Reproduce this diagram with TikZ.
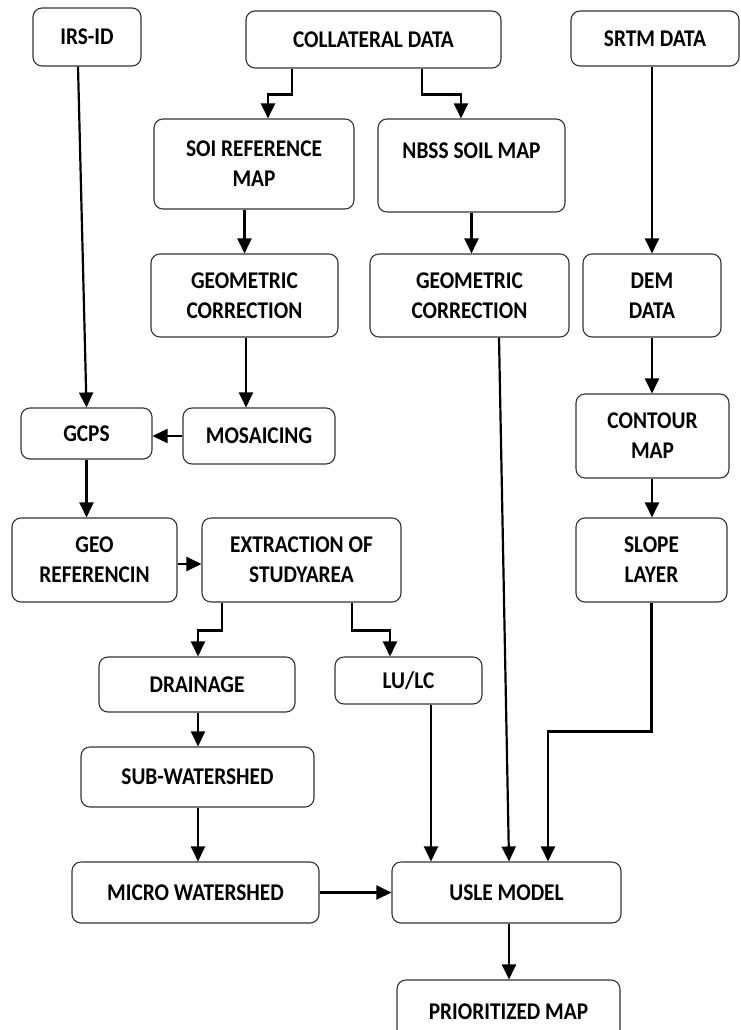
\documentclass[tikz,border=0pt]{standalone}
\usepackage{fontspec}
\setmainfont{Carlito}[FakeStretch=0.89]
\usepackage{tikz}
\usetikzlibrary{arrows.meta, positioning}

\begin{document}
\begin{tikzpicture}[x=1pt, y=-1pt,
            proc box/.style={draw=black!80, line width=1.1pt, rounded corners=9pt,
                align=center, inner sep=0pt,
                font=\fontsize{24}{30}\selectfont\bfseries},
            flow/.style={line width=2.2pt, -{Triangle[length=15pt, width=14pt]}}]

            \path[use as bounding box, clip] (0,0) rectangle (741,1030);

            % Input data
            \node[proc box, minimum width=108pt, minimum height=58pt] (irs) at (87,37) {IRS-ID};
            \node[proc box, minimum width=255pt, minimum height=57pt] (coll) at (373.5,39.5) {COLLATERAL DATA};
            \node[proc box, minimum width=168pt, minimum height=55pt] (srtm) at (655,38.5) {SRTM DATA};

            % Collateral branch
            \node[proc box, minimum width=200pt, minimum height=90pt] (soi) at (254,164) {SOI REFERENCE\\MAP};
            \node[proc box, minimum width=187pt, minimum height=93pt] (nbss) at (471.5,165.5) {NBSS SOIL MAP\\\mbox{}};
            \node[proc box, minimum width=187pt, minimum height=83pt] (geoA) at (244.5,295.5) {GEOMETRIC\\CORRECTION};
            \node[proc box, minimum width=199pt, minimum height=83pt] (geoB) at (469.5,295.5) {GEOMETRIC\\CORRECTION};
            \node[proc box, minimum width=152pt, minimum height=56pt] (mosaic) at (259,436) {MOSAICING};

            % SRTM branch
            \node[proc box, minimum width=138pt, minimum height=83pt] (dem) at (652,295.5) {DEM\\DATA};
            \node[proc box, minimum width=153pt, minimum height=84pt] (contour) at (652.5,436) {CONTOUR\\MAP};
            \node[proc box, minimum width=151pt, minimum height=84pt] (slope) at (651.5,560) {SLOPE\\LAYER};

            % Image processing
            \node[proc box, minimum width=131pt, minimum height=51pt] (gcps) at (86.5,433.5) {GCPS};
            \node[proc box, minimum width=165pt, minimum height=84pt] (georef) at (94.5,560) {GEO\\REFERENCIN};
            \node[proc box, minimum width=199pt, minimum height=84pt] (extract) at (301.5,560) {EXTRACTION OF\\STUDYAREA};

            % Derived layers
            \node[proc box, minimum width=196pt, minimum height=55pt] (drain) at (197,684.5) {DRAINAGE};
            \node[proc box, minimum width=147pt, minimum height=47pt] (lulc) at (408.5,680.5) {LU/LC};
            \node[proc box, minimum width=233pt, minimum height=60pt] (sub) at (197.5,777) {SUB-WATERSHED};
            \node[proc box, minimum width=247pt, minimum height=61pt] (micro) at (195.5,892.5) {MICRO WATERSHED};

            % Model and output
            \node[proc box, minimum width=229pt, minimum height=61pt] (usle) at (506.5,892.5) {USLE MODEL};
            \node[proc box, minimum width=223pt, minimum height=64pt] (prior) at (508.5,1012) {PRIORITIZED MAP};

            % Arrows
            \draw[flow] ([xshift=-81.5pt]coll.south) -- ++(0,26) -| ([xshift=14pt]soi.north);
            \draw[flow] ([xshift=48.5pt]coll.south) -- ++(0,26) -| ([xshift=-10.5pt]nbss.north);
            \draw[flow] ([xshift=-9pt]irs.south) -- (gcps.north);
            \draw[flow] (srtm.south -| dem.north) -- (dem.north);
            \draw[flow] (soi.south -| geoA.north) -- (geoA.north);
            \draw[flow] (nbss.south) -- (nbss.south |- geoB.north);
            \draw[flow] ([xshift=1.5pt]geoA.south) -- ([xshift=1.5pt]geoA.south |- mosaic.north);
            \draw[flow] (mosaic.west) -- (mosaic.west -| gcps.east);
            \draw[flow] (dem.south) -- (contour.north -| dem.south);
            \draw[flow] (contour.south -| dem.south) -- (slope.north -| dem.south);
            \draw[flow] (gcps.south) -- (gcps.south |- georef.north);
            \draw[flow] ([yshift=-4pt]georef.east) -- ([yshift=-4pt]extract.west);
            \draw[flow] ([xshift=-79.5pt]extract.south) -- ++(0,28) -| ([xshift=1pt]drain.north);
            \draw[flow] ([xshift=50.5pt]extract.south) -- ++(0,28) -| ([xshift=-18.5pt]lulc.north);
            \draw[flow] ([xshift=1pt]drain.south) -- ([xshift=1pt]drain.south |- sub.north);
            \draw[flow] ([xshift=0.5pt]sub.south) -- ([xshift=0.5pt]sub.south |- micro.north);
            \draw[flow] (micro.east) -- (usle.west);
            \draw[flow] ([xshift=22.5pt]lulc.south) -- ([xshift=22.5pt]lulc.south |- usle.north);
            \draw[flow] ([xshift=29.5pt]geoB.south) -- ([xshift=2.5pt]usle.north);
            \draw[flow] (slope.south) -- ++(0,129) -| ([xshift=41.5pt]usle.north);
            \draw[flow] ([xshift=2.5pt]usle.south) -- ([xshift=0.5pt]prior.north);
        \end{tikzpicture}
\end{document}
